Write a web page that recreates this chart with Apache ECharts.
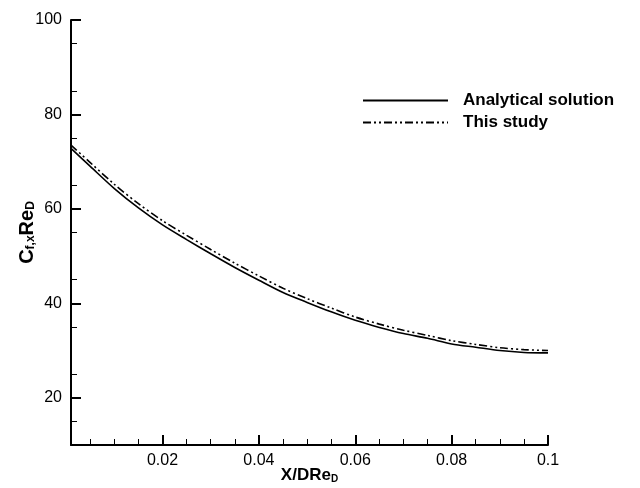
<!DOCTYPE html>
<html><head><meta charset="utf-8">
<script src="https://cdn.jsdelivr.net/npm/echarts@6/dist/echarts.min.js"></script>
<style>html,body{margin:0;padding:0;background:#fff}#c{width:640px;height:488px}</style>
</head><body><div id="c"></div>
<script>
const xValues = [0.001, 0.005, 0.01, 0.015, 0.02, 0.025, 0.03, 0.035, 0.04, 0.045, 0.05, 0.055, 0.06, 0.065, 0.07, 0.075, 0.08, 0.085, 0.09, 0.095, 0.1];
const analytical = [72.8, 69.0, 64.3, 60.2, 56.6, 53.5, 50.5, 47.6, 44.9, 42.3, 40.2, 38.2, 36.4, 34.9, 33.6, 32.6, 31.4, 30.7, 30.0, 29.6, 29.5];
const thisStudy = [73.5, 69.8, 65.2, 61.1, 57.5, 54.4, 51.4, 48.5, 45.8, 43.2, 41.0, 39.0, 37.1, 35.6, 34.3, 33.2, 32.1, 31.3, 30.6, 30.2, 30.0];
const seriesNames = ['Analytical solution', 'This study'];
const xMajorTicks = [0.02, 0.04, 0.06, 0.08, 0.1];
const xMinorTicks = [0.005, 0.01, 0.015, 0.025, 0.03, 0.035, 0.045, 0.05, 0.055, 0.065, 0.07, 0.075, 0.085, 0.09, 0.095];
const yMajorTicks = [20, 40, 60, 80, 100];
const yMinorTicks = [15, 25, 35, 45, 55, 65, 75, 85, 95];
const xRange = [0.001, 0.1];
const yRange = [10, 100];

const FONT = "'Liberation Sans', Arial, sans-serif";
const chart = echarts.init(document.getElementById('c'), null, {renderer: 'canvas'});
const axisLine = {show: true, lineStyle: {color: '#000', width: 2}};
const baseX = {type: 'value', min: xRange[0], max: xRange[1], position: 'bottom', splitLine: {show: false}};
const baseY = {type: 'value', min: yRange[0], max: yRange[1], position: 'left', splitLine: {show: false}};
chart.setOption({
  animation: false,
  backgroundColor: '#fff',
  grid: {left: 71, right: 92, top: 20, bottom: 43, containLabel: false, outerBoundsMode: 'none'},
  legend: {
    orient: 'vertical', left: 362, top: 92, padding: 0, itemWidth: 85, itemHeight: 14, itemGap: 5,
    itemStyle: {opacity: 0},
    textStyle: {fontFamily: FONT, fontWeight: 'bold', fontSize: 17, color: '#000', padding: [0, 0, 0, 10]},
    data: seriesNames
  },
  xAxis: [
    Object.assign({}, baseX, {
      axisLine: axisLine,
      axisTick: {show: true, inside: true, length: 10, customValues: xMajorTicks, lineStyle: {color: '#000', width: 2}},
      axisLabel: {show: true, customValues: xMajorTicks, margin: 8, fontFamily: FONT, fontSize: 16, color: '#000', formatter: v => String(+v.toFixed(3))},
      name: '{b|X/DRe}{s|D}', nameLocation: 'middle', nameGap: 22, nameMoveOverlap: false,
      nameTextStyle: {rich: {
        b: {fontFamily: FONT, fontWeight: 'bold', fontSize: 17, color: '#000', lineHeight: 17},
        s: {fontFamily: FONT, fontWeight: 'bold', fontSize: 10, color: '#000', lineHeight: 2, verticalAlign: 'bottom'}
      }}
    }),
    Object.assign({}, baseX, {
      axisLine: {show: false},
      axisTick: {show: true, inside: true, length: 6, customValues: xMinorTicks, lineStyle: {color: '#000', width: 1}},
      axisLabel: {show: false}
    })
  ],
  yAxis: [
    Object.assign({}, baseY, {
      axisLine: axisLine,
      axisTick: {show: true, inside: true, length: 10, customValues: yMajorTicks, lineStyle: {color: '#000', width: 2}},
      axisLabel: {show: true, customValues: yMajorTicks, margin: 9, fontFamily: FONT, fontSize: 16, color: '#000'},
      name: '{b|C}{s|f,x}{b|Re}{s|D}', nameLocation: 'middle', nameGap: 34, nameRotate: 90, nameMoveOverlap: false,
      nameTextStyle: {rich: {
        b: {fontFamily: FONT, fontWeight: 'bold', fontSize: 20, color: '#000', lineHeight: 20},
        s: {fontFamily: FONT, fontWeight: 'bold', fontSize: 12, color: '#000', lineHeight: 2, verticalAlign: 'bottom'}
      }}
    }),
    Object.assign({}, baseY, {
      axisLine: {show: false},
      axisTick: {show: true, inside: true, length: 6, customValues: yMinorTicks, lineStyle: {color: '#000', width: 1}},
      axisLabel: {show: false}
    })
  ],
  series: [
    {name: seriesNames[0], type: 'line', xAxisIndex: 0, yAxisIndex: 0, showSymbol: false, symbol: 'none', smooth: 0.3,
     data: xValues.map((x, i) => [x, analytical[i]]),
     lineStyle: {color: '#000', width: 1.6, type: 'solid'}, itemStyle: {color: '#000'}},
    {name: seriesNames[1], type: 'line', xAxisIndex: 0, yAxisIndex: 0, showSymbol: false, symbol: 'none', smooth: 0.3,
     data: xValues.map((x, i) => [x, thisStudy[i]]),
     lineStyle: {color: '#000', width: 1.6, type: [8, 3, 2, 3, 2, 3]}, itemStyle: {color: '#000'}}
  ]
});
</script></body></html>
